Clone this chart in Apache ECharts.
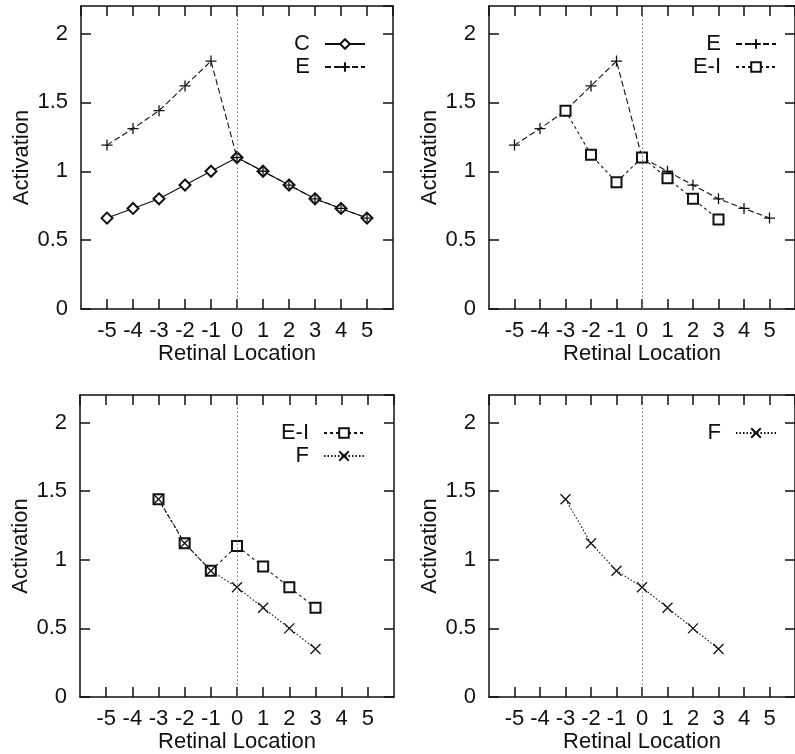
<!DOCTYPE html>
<html>
<head>
<meta charset="utf-8">
<script src="https://cdn.jsdelivr.net/npm/echarts@6/dist/echarts.min.js"></script>
<style>
html,body{margin:0;padding:0;background:#fff;}
#chart{width:795px;height:754px;}
</style>
</head>
<body>
<div id="chart"></div>
<script>
// ---- data ----
const xs = [-5, -4, -3, -2, -1, 0, 1, 2, 3, 4, 5];
const C  = [0.66, 0.73, 0.80, 0.90, 1.00, 1.10, 1.00, 0.90, 0.80, 0.73, 0.66];
const E  = [1.19, 1.31, 1.44, 1.62, 1.80, 1.10, 1.00, 0.90, 0.80, 0.73, 0.66];
const EI = [null, null, 1.44, 1.12, 0.92, 1.10, 0.95, 0.80, 0.65, null, null];
const F  = [null, null, 1.44, 1.12, 0.92, 0.80, 0.65, 0.50, 0.35, null, null];
const xTitle = 'Retinal Location';
const yTitle = 'Activation';

const seriesValues = { 'C': C, 'E': E, 'E-I': EI, 'F': F };
const panelSeries = [['C', 'E'], ['E', 'E-I'], ['E-I', 'F'], ['F']];

// ---- styles / layout ----
const INK = '#111';
const FS = 22;
const seriesStyle = {
  'C':   { symbol: 'emptyDiamond', size: 11, dash: 'solid', width: 1.1 },
  'E':   { symbol: 'path://M5,0L5,10M0,5L10,5', size: 11, dash: [6, 3], width: 1.1 },
  'E-I': { symbol: 'emptyRect', size: 10, dash: [3, 3], width: 1.1 },
  'F':   { symbol: 'path://M0,0L10,10M10,0L0,10', size: 10, dash: [1.5, 2], width: 1.1 }
};
const grids = [
  { left: 81,  top: 6,   width: 312, height: 303 },
  { left: 489, top: 6,   width: 312, height: 303 },
  { left: 80,  top: 395, width: 314, height: 302 },
  { left: 489, top: 395, width: 312, height: 302 }
];
const legendPos = [
  { right: 424, top: 28 },
  { right: 13,  top: 28 },
  { right: 425, top: 417 },
  { right: 13,  top: 417 }
];

function xyData(vals) {
  return xs.map((x, i) => vals[i] == null ? [x, null] : [x, vals[i]]);
}
function mkLine() { return { show: true, onZero: false, lineStyle: { color: INK, width: 1.5 } }; }
function mkTick() { return { show: true, inside: true, length: 10, lineStyle: { color: INK, width: 1.5 } }; }

const option = {
  backgroundColor: '#fff',
  animation: false,
  grid: grids.map(g => Object.assign({}, g)),
  xAxis: [],
  yAxis: [],
  legend: [],
  series: []
};

grids.forEach((g, gi) => {
  option.xAxis.push({
    type: 'value', gridIndex: gi, position: 'bottom', min: -6, max: 6, interval: 1,
    axisLine: mkLine(), splitLine: { show: false }, axisTick: mkTick(),
    axisLabel: { margin: 11, fontSize: FS, color: INK, showMinLabel: false, showMaxLabel: false },
    name: xTitle, nameLocation: 'middle', nameGap: 33,
    nameTextStyle: { fontSize: FS, color: INK }
  });
  option.xAxis.push({
    type: 'value', gridIndex: gi, position: 'top', min: -6, max: 6, interval: 1,
    axisLine: mkLine(), splitLine: { show: false }, axisTick: mkTick(),
    axisLabel: { show: false }
  });
  option.yAxis.push({
    type: 'value', gridIndex: gi, position: 'left', min: 0, max: 2.2, interval: 0.5,
    axisLine: mkLine(), splitLine: { show: false }, axisTick: mkTick(),
    axisLabel: { margin: 13, fontSize: FS, color: INK, showMaxLabel: false },
    name: yTitle, nameLocation: 'middle', nameGap: 48, nameRotate: 90,
    nameTextStyle: { fontSize: FS, color: INK }
  });
  option.yAxis.push({
    type: 'value', gridIndex: gi, position: 'right', min: 0, max: 2.2, interval: 0.5,
    axisLine: mkLine(), splitLine: { show: false }, axisTick: mkTick(),
    axisLabel: { show: false }
  });

  option.legend.push(Object.assign({
    orient: 'vertical', align: 'right', data: panelSeries[gi],
    itemWidth: 40, itemHeight: 12, itemGap: 1,
    textStyle: { fontSize: FS, color: INK, padding: [0, 10, 0, 0] },
    selectedMode: false, inactiveColor: INK
  }, legendPos[gi]));

  panelSeries[gi].forEach((name, si) => {
    const st = seriesStyle[name];
    const s = {
      type: 'line', name, xAxisIndex: gi * 2, yAxisIndex: gi * 2,
      data: xyData(seriesValues[name]),
      symbol: st.symbol, symbolSize: st.size, showSymbol: true,
      connectNulls: false,
      lineStyle: { color: INK, width: st.width, type: st.dash },
      itemStyle: { color: INK, borderColor: INK, borderWidth: 1.3 }
    };
    if (si === 0) {
      s.markLine = {
        silent: true, symbol: ['none', 'none'], label: { show: false },
        lineStyle: { type: [1.5, 2.5], color: '#777', width: 1 },
        data: [{ xAxis: 0 }]
      };
    }
    option.series.push(s);
  });
});

const chart = echarts.init(document.getElementById('chart'));
chart.setOption(option);
</script>
</body>
</html>
